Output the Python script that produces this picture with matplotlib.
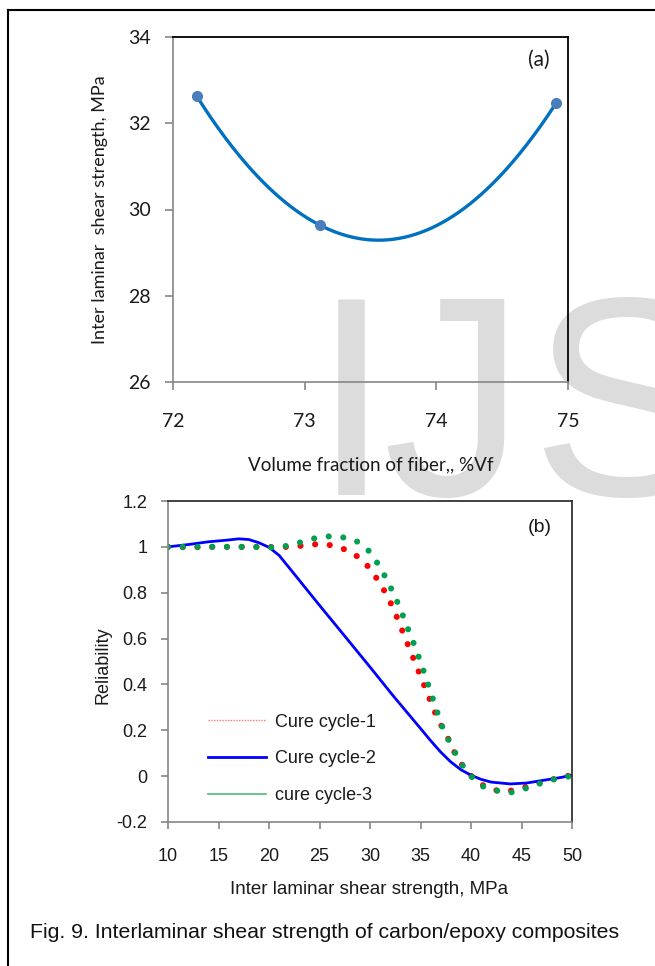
# Fig. 9 - interlaminar shear strength of carbon/epoxy composites
import numpy as np
import matplotlib.pyplot as plt
from matplotlib.lines import Line2D

# (a) ILSS vs volume fraction of fiber
vf = [72.18, 73.12, 74.91]
ilss = [32.63, 29.63, 32.47]

# (b) reliability curves
x_c1 = [10, 12, 14, 16, 18, 20, 21, 22.7, 24.1, 25.4, 26.8, 28.1, 29.2, 29.9, 30.7,
        31.4, 32.0, 32.6, 33.6, 34.6, 35.6, 36.6, 37.3, 37.9, 38.4, 39.1, 39.9,
        41.0, 42.0, 43.7, 45.1, 46.3, 48.0, 50]
y_c1 = [1.0, 0.998, 1.0, 1.0, 1.0, 1.0, 0.998, 1.002, 1.01, 1.013, 1.001, 0.978, 0.944, 0.91, 0.86,
        0.81, 0.76, 0.70, 0.59, 0.48, 0.37, 0.26, 0.20, 0.15, 0.10, 0.05, 0.006,
        -0.035, -0.06, -0.066, -0.052, -0.035, -0.015, 0.005]

x_c2 = [10, 12, 14, 16, 17, 18, 19, 20, 21, 22.4, 25, 27.7, 30, 32.3, 35, 36, 37, 38,
        39, 40, 41, 42, 43.9, 45.5, 47.2, 49, 50]
y_c2 = [1.0, 1.01, 1.022, 1.03, 1.035, 1.032, 1.018, 0.998, 0.963, 0.887, 0.745, 0.6, 0.476,
        0.35, 0.208, 0.155, 0.105, 0.062, 0.028, 0.004, -0.014, -0.026, -0.034, -0.03,
        -0.018, -0.005, 0.005]

x_c3 = [10, 12, 14, 16, 18, 20, 21, 22.4, 24.2, 26.3, 28.3, 29.5, 30.3, 31.3, 32.3, 33.0,
        33.6, 34.5, 35.3, 35.9, 36.5, 37.2, 38.2, 39.1, 40.2, 41.2, 42.2, 43.7, 45.0,
        46.3, 47.5, 49, 50]
y_c3 = [1.0, 1.0, 1.0, 1.0, 1.0, 0.998, 0.998, 1.01, 1.035, 1.048, 1.035, 1.001, 0.961, 0.887, 0.80, 0.73,
        0.66, 0.56, 0.46, 0.38, 0.30, 0.21, 0.12, 0.05, -0.01, -0.045, -0.06, -0.074, -0.06,
        -0.04, -0.022, -0.005, 0.0]

labels_b = ['Cure cycle-1', 'Cure cycle-2', 'cure cycle-3']

font_a = ['Lato', 'DejaVu Sans']
font_b = ['Liberation Sans Narrow', 'Liberation Sans', 'DejaVu Sans']

W, H = 655, 966
fig = plt.figure(figsize=(W / 100, H / 100), dpi=100)

# watermark letters behind everything
for letter, left in [('I', 312), ('J', 383), ('S', 530)]:
    fig.text(left / W, (H - 495) / H, letter, fontsize=205, color='#dcdcdc',
             family=['Liberation Sans'], ha='left', va='baseline', zorder=-1)

# page border (left and top)
fig.add_artist(Line2D([8 / W, 8 / W], [0, (H - 10) / H], color='black', lw=1.5))
fig.add_artist(Line2D([8 / W, 1], [(H - 10) / H, (H - 10) / H], color='black', lw=1.5))


def style_axes(ax, top_color):
    ax.set_facecolor('none')
    for s in ['left', 'bottom']:
        ax.spines[s].set_color('#868686')
        ax.spines[s].set_linewidth(1.2)
    for s in ['top', 'right']:
        ax.spines[s].set_color(top_color)
        ax.spines[s].set_linewidth(1.3)
    ax.tick_params(direction='out', length=6, width=1.2, color='#868686',
                   top=False, right=False)


# ---- (a) ----
ax1 = fig.add_axes([173 / W, (H - 382) / H, 395 / W, 345 / H])
style_axes(ax1, 'black')
coef = np.polyfit(vf, ilss, 2)
xs = np.linspace(vf[0], vf[-1], 200)
ax1.plot(xs, np.polyval(coef, xs), color='#0070C0', lw=2.4)
ax1.plot(vf, ilss, 'o', color='#4a7ebb', ms=7)
ax1.set_xlim(72, 75)
ax1.set_ylim(26, 34)
ax1.set_xticks([72, 73, 74, 75])
ax1.set_yticks([26, 28, 30, 32, 34])
ax1.tick_params(axis='x', pad=16)
ax1.tick_params(axis='y', pad=10)
for t in ax1.get_xticklabels() + ax1.get_yticklabels():
    t.set_family(font_a)
    t.set_fontsize(14)
    t.set_color('#1a1a1a')
ax1.set_xlabel('Volume fraction of fiber,, %Vf', family=font_a, fontsize=13.5, color='#1a1a1a')
ax1.xaxis.set_label_coords(0.5, -0.215)
ax1.set_ylabel('Inter laminar  shear strength, MPa', family=font_a, fontsize=13, color='#1a1a1a')
ax1.yaxis.set_label_coords(-0.165, 0.5)
ax1.text(0.927, 0.933, '(a)', transform=ax1.transAxes, ha='center', va='center',
         family=font_a, fontsize=15, color='#1a1a1a')

# ---- (b) ----
ax2 = fig.add_axes([168 / W, (H - 822) / H, 404 / W, 321 / H])
style_axes(ax2, '#333333')
dots = (0, (0.01, 2.4))
ax2.plot(x_c1, y_c1, color='#ff0000', lw=4.4, linestyle=dots, dash_capstyle='round')
ax2.plot(x_c2, y_c2, color='#0000ff', lw=2.0)
ax2.plot(x_c3, y_c3, color='#00a050', lw=4.4, linestyle=dots, dash_capstyle='round')
ax2.set_xlim(10, 50)
ax2.set_ylim(-0.2, 1.2)
ax2.set_xticks(range(10, 51, 5))
ax2.set_yticks([-0.2, 0, 0.2, 0.4, 0.6, 0.8, 1, 1.2])
ax2.set_yticklabels(['-0.2', '0', '0.2', '0.4', '0.6', '0.8', '1', '1.2'])
ax2.tick_params(axis='x', length=5, pad=14)
ax2.tick_params(axis='y', length=5, pad=10)
for t in ax2.get_xticklabels() + ax2.get_yticklabels():
    t.set_family(font_b)
    t.set_fontsize(13)
    t.set_color('#1a1a1a')
ax2.set_xlabel('Inter laminar shear strength, MPa', family=font_b, fontsize=13.5, color='#1a1a1a')
ax2.xaxis.set_label_coords(0.4975, -0.185)
ax2.set_ylabel('Reliability', family=font_b, fontsize=13, color='#1a1a1a')
ax2.yaxis.set_label_coords(-0.14, 0.489)
ax2.text(0.921, 0.919, '(b)', transform=ax2.transAxes, ha='center', va='center',
         family=font_b, fontsize=14, color='#1a1a1a')

handles = [
    Line2D([], [], color='#ff7070', lw=1.0, linestyle=(0, (1, 1))),
    Line2D([], [], color='#0000ff', lw=2.0),
    Line2D([], [], color='#60c080', lw=1.3),
]
leg = ax2.legend(handles, labels_b, loc='upper left', bbox_to_anchor=(0.099, 0.338),
                 frameon=False, borderpad=0, borderaxespad=0, handlelength=3.2,
                 handletextpad=0.5, labelspacing=1.1,
                 prop={'family': font_b, 'size': 13})
for t in leg.get_texts():
    t.set_color('#1a1a1a')

# caption
fig.text(30 / W, (H - 933) / H, 'Fig. 9. Interlaminar shear strength of carbon/epoxy composites',
         family=['Liberation Sans'], fontsize=15.3, ha='left', va='center', color='#111111')

plt.savefig('out.png', dpi=100)
